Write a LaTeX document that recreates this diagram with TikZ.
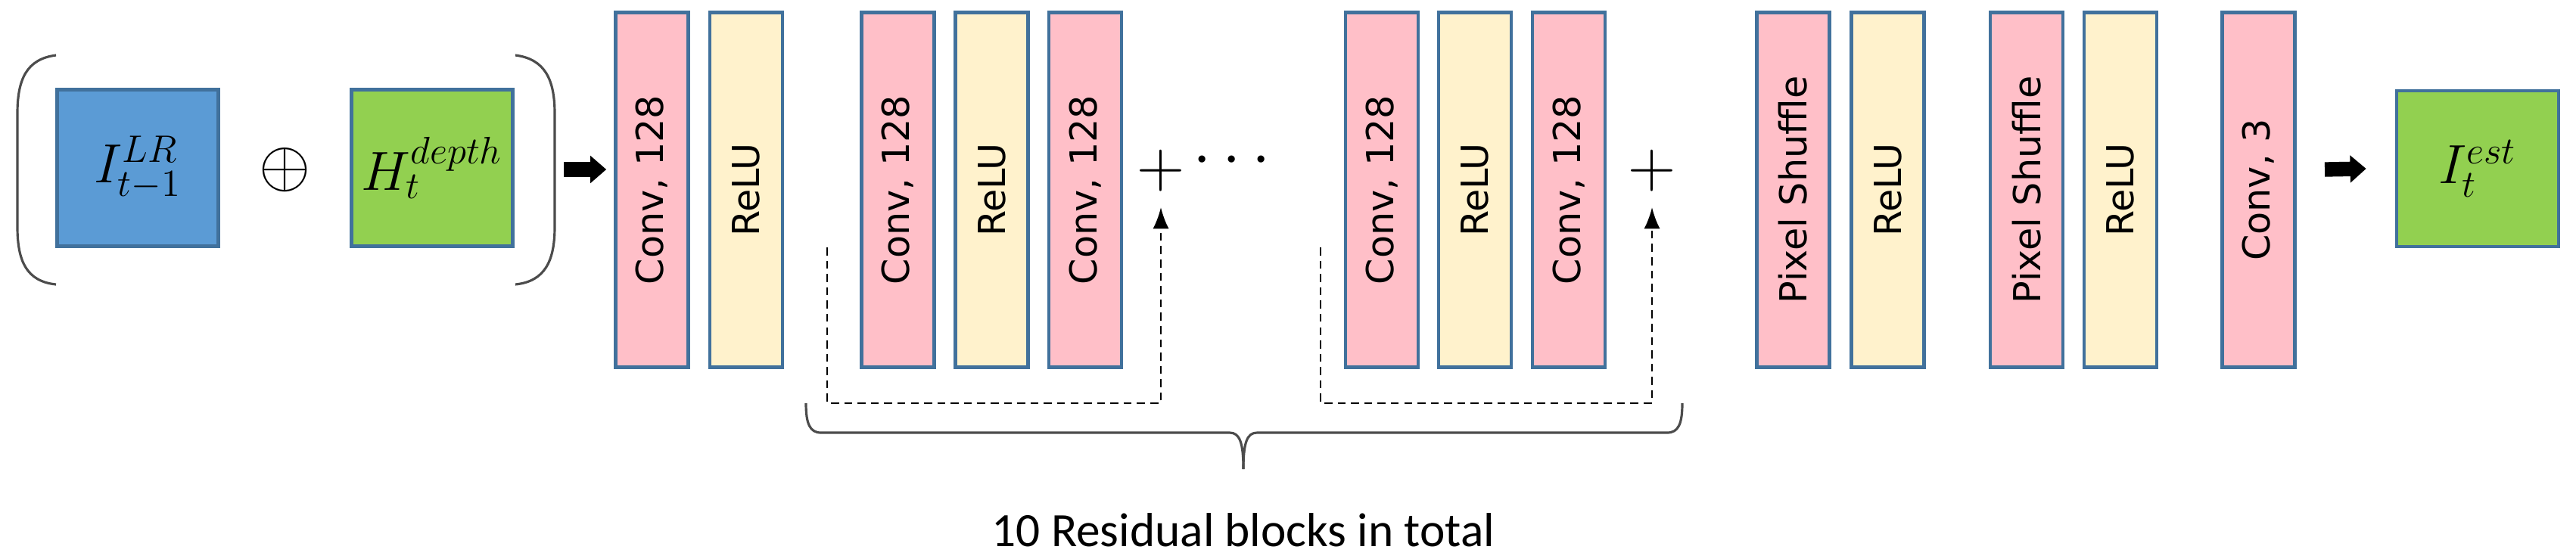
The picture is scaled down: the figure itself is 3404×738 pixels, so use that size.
\documentclass[tikz,border=0pt]{standalone}
\usepackage{fontspec}
\setmainfont{DejaVu Sans}
\newfontfamily\capfont{Carlito}
\usetikzlibrary{arrows.meta}
\definecolor{edge}{HTML}{41719C}
\definecolor{convc}{HTML}{FFBFC8}
\definecolor{reluc}{HTML}{FFF2CC}
\definecolor{inblue}{HTML}{5B9BD5}
\definecolor{ingreen}{HTML}{92D050}
\begin{document}
\begin{tikzpicture}[x=0.01cm,y=-0.01cm,
  layer/.style={draw=edge,line width=1.3pt,minimum width=0.96cm,minimum height=4.69cm,inner sep=0pt},
  conv/.style={layer,fill=convc},
  relu/.style={layer,fill=reluc},
  lbl/.style={rotate=90,font=\fontsize{14}{16}\selectfont},
  img/.style={draw=edge,line width=1.3pt,minimum width=2.13cm,minimum height=2.07cm,inner sep=0pt,font=\fontsize{21}{24}\selectfont},
  bigarrow/.style={line width=5.5pt,-{Triangle[length=6pt,width=10pt]}},
  skip/.style={densely dashed,line width=0.7pt,-{Latex[length=8pt,width=6pt]}},
  grayline/.style={draw=black!70,line width=0.9pt}]
\useasboundingbox (0,0) rectangle (3404,738);
% inputs
\node[img,fill=inblue] (in1) at (182,222) {$I_{t-1}^{LR}$};
\node[font=\fontsize{30}{32}\selectfont] (op) at (377,225) {$\oplus$};
\node[img,fill=ingreen] (in2) at (571,222) {$H_{t}^{depth}$};
\draw[grayline] (74,73) .. controls (35,78) and (23,105) .. (23,150) -- (23,300) .. controls (23,345) and (35,372) .. (74,376);
\draw[grayline] (681,73) .. controls (720,78) and (733,105) .. (733,150) -- (733,300) .. controls (733,345) and (720,372) .. (681,376);
\coordinate (a1s) at (745,224);
\node[conv] (c1) at (861.5,251) {};
\node[lbl] at (c1) {Conv, 128};
\draw[bigarrow] (a1s) -- ([xshift=-0.1cm]c1.west |- a1s);
\node[relu] (r1) at (986,251) {};
\node[lbl] at (r1) {ReLU};
% block 1
\node[conv] (b1c1) at (1186.5,251) {}; \node[lbl] at (b1c1) {Conv, 128};
\node[relu] (b1r) at (1310.5,251) {}; \node[lbl] at (b1r) {ReLU};
\node[conv] (b1c2) at (1434,251) {}; \node[lbl] at (b1c2) {Conv, 128};
\node[font=\fontsize{28}{30}\selectfont,inner sep=0pt] (p1) at (1534,226) {$+$};
\node[font=\fontsize{30}{32}\selectfont] (dots) at (1628,213) {$\cdots$};
\coordinate (s1) at (1093,327);
\coordinate (k1) at (1534,533);
\draw[skip] (s1) |- (k1) -- ([yshift=-0.2cm]p1.south);
% block 2
\node[conv] (b2c1) at (1826,251) {}; \node[lbl] at (b2c1) {Conv, 128};
\node[relu] (b2r) at (1949,251) {}; \node[lbl] at (b2r) {ReLU};
\node[conv] (b2c2) at (2073,251) {}; \node[lbl] at (b2c2) {Conv, 128};
\node[font=\fontsize{28}{30}\selectfont,inner sep=0pt] (p2) at (2183,226) {$+$};
\coordinate (s2) at (1745,327);
\coordinate (k2) at (2183,533);
\draw[skip] (s2) |- (k2) -- ([yshift=-0.2cm]p2.south);
% brace
\draw[grayline] (1065,533) .. controls (1065,560) and (1070,572) .. (1085,572) -- (1625,572) .. controls (1638,572) and (1643,585) .. (1643,620);
\draw[grayline] (2223,533) .. controls (2223,560) and (2218,572) .. (2203,572) -- (1661,572) .. controls (1648,572) and (1643,585) .. (1643,620);
\node[font=\capfont\fontsize{18}{20}\selectfont] (cap) at (1643,701) {10 Residual blocks in total};
% upsampling
\node[conv] (ps1) at (2369.5,251) {}; \node[lbl] at (ps1) {Pixel Shuffle};
\node[relu] (r2) at (2494.5,251) {}; \node[lbl] at (r2) {ReLU};
\node[conv] (ps2) at (2678,251) {}; \node[lbl] at (ps2) {Pixel Shuffle};
\node[relu] (r3) at (2802,251) {}; \node[lbl] at (r3) {ReLU};
\node[conv] (c3) at (2984.5,251) {}; \node[lbl] at (c3) {Conv, 3};
\node[img,fill=ingreen,minimum width=2.14cm,minimum height=2.06cm] (out) at (3274,223) {$I_{t}^{est}$};
\coordinate (a2s) at (3072,224);
\draw[bigarrow] (a2s) -- ([xshift=-0.38cm]out.west);
\end{tikzpicture}
\end{document}
